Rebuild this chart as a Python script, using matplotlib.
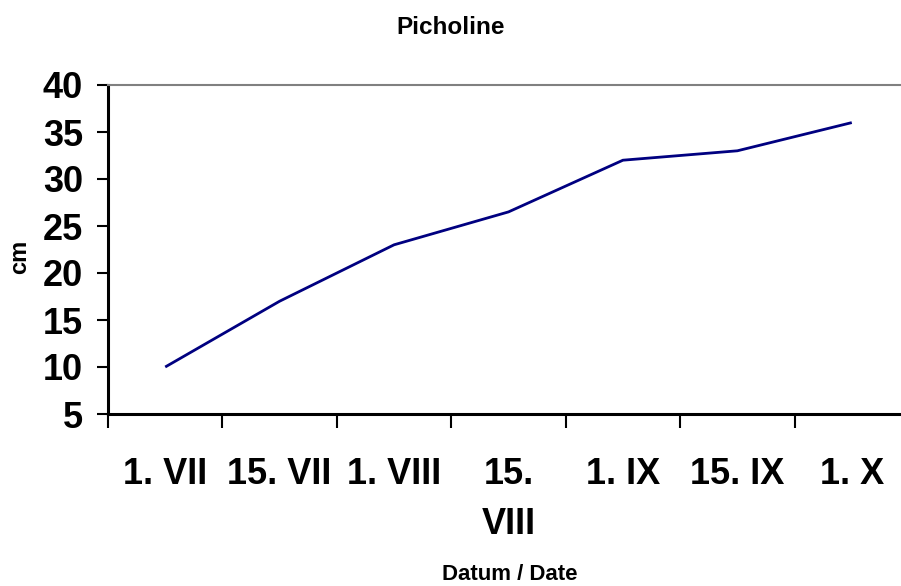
import matplotlib
matplotlib.use("Agg")
import matplotlib.pyplot as plt

# data
dates = ["1. VII", "15. VII", "1. VIII", "15.\nVIII", "1. IX", "15. IX", "1. X"]
height_cm = [10, 17, 23, 26.5, 32, 33, 36]
y_ticks = [5, 10, 15, 20, 25, 30, 35, 40]


def main():
    plt.rcParams["font.family"] = ["Liberation Sans", "DejaVu Sans"]
    plt.rcParams["font.weight"] = "bold"

    fig = plt.figure(figsize=(9.01, 5.86), dpi=100)
    ax = fig.add_axes([108 / 901, 1 - 414 / 586, (909 - 108) / 901, (414 - 85) / 586])

    xs = list(range(len(dates)))
    ax.plot(xs, height_cm, color="#000080", lw=2.0, solid_capstyle="butt")

    ax.set_xlim(-0.5, len(dates) - 0.5)
    ax.set_ylim(y_ticks[0], y_ticks[-1])

    # tick marks between categories, labels in the middle
    ax.set_xticks([x - 0.5 for x in xs])
    ax.set_xticklabels([])
    ax.set_xticks(xs, minor=True)
    ax.set_xticklabels(dates, minor=True, fontsize=26, fontweight="bold", linespacing=1.55)
    ax.tick_params(axis="x", which="major", direction="out", length=10, width=1.5, color="black")
    ax.tick_params(axis="x", which="minor", length=0, pad=31)

    ax.set_yticks(y_ticks)
    ax.set_yticklabels([str(v) for v in y_ticks], fontsize=26, fontweight="bold")
    ax.tick_params(axis="y", direction="out", length=8, width=1.5, color="black", pad=10)

    for side in ["left", "bottom"]:
        ax.spines[side].set_color("black")
        ax.spines[side].set_linewidth(2.2)
    ax.spines["top"].set_color("#808080")
    ax.spines["top"].set_linewidth(1.5)
    ax.spines["right"].set_visible(False)

    fig.text(451 / 901, 1 - 27 / 586, "Picholine", ha="center", va="center",
             fontsize=17.5, fontweight="bold")
    fig.text(510 / 901, 1 - 575 / 586, "Datum / Date", ha="center", va="center",
             fontsize=16, fontweight="bold")
    fig.text(20 / 901, 1 - 257 / 586, "cm", ha="center", va="center", rotation=90,
             fontsize=17, fontweight="bold")

    fig.savefig("out.png", dpi=100)


if __name__ == "__main__":
    main()
